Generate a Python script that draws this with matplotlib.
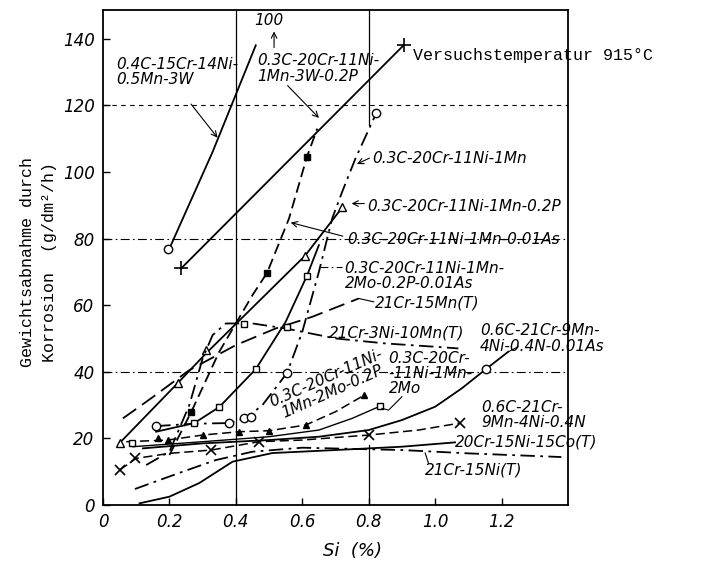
import matplotlib
matplotlib.use('Agg')
import matplotlib.pyplot as plt

# ---------------- data (Si %, weight loss g/dm2/h) ----------------
xticks = [0, 0.2, 0.4, 0.6, 0.8, 1.0, 1.2]
xtick_labels = ['0', '0.2', '0.4', '0.6', '0.8', '1.0', '1.2']
yticks = [0, 20, 40, 60, 80, 100, 120, 140]
ytick_labels = ['0', '20', '40', '60', '80', '100', '120', '140']

# 0.4C-15Cr-14Ni-0.5Mn-3W
a_x = [0.20, 0.33, 0.46]
a_y = [77, 106, 138]
a_mx = [0.195]
a_my = [77]
# 0.3C-20Cr-11Ni-1Mn-3W-0.2P
b_x = [0.235, 0.905]
b_y = [71, 138]
# 0.3C-20Cr-11Ni-1Mn
c_x = [0.16, 0.275, 0.38, 0.43, 0.48, 0.554, 0.60, 0.65, 0.69, 0.72, 0.76, 0.823]
c_y = [23.7, 24.4, 24.6, 26, 30, 39.6, 52, 70, 86, 94, 104, 117.7]
c_mx = [0.16, 0.38, 0.425, 0.446, 0.554, 0.823]
c_my = [23.7, 24.6, 26, 26.4, 39.6, 117.7]
# 0.3C-20Cr-11Ni-1Mn-0.2P
d_x = [0.05, 0.225, 0.31, 0.608, 0.71]
d_y = [18.6, 36.6, 45.5, 74.8, 88]
d_mx = [0.05, 0.225, 0.31, 0.608, 0.72]
d_my = [18.6, 36.6, 46.5, 74.8, 89.5]
# 0.3C-20Cr-11Ni-1Mn-0.01As
e_x = [0.20, 0.266, 0.35, 0.45, 0.494, 0.56, 0.614, 0.645]
e_y = [15, 28, 46, 63, 69.7, 86, 104.5, 113]
e_mx = [0.266, 0.494, 0.614]
e_my = [28, 69.7, 104.5]
# 21Cr-15Mn(T)
f_x = [0.06, 0.15, 0.26, 0.40, 0.52, 0.63, 0.77]
f_y = [26, 32.4, 40.5, 48, 53, 56.5, 62]
# 0.3C-20Cr-11Ni-1Mn-2Mo-0.2P-0.01As
g_x = [0.16, 0.275, 0.35, 0.46, 0.55, 0.614, 0.65]
g_y = [22, 24.6, 29.4, 40.8, 55, 68.8, 78]
g_mx = [0.275, 0.35, 0.46, 0.614]
g_my = [24.6, 29.4, 40.8, 68.8]
# 0.3C-20Cr-11Ni-1Mn-2Mo-0.2P
h_x = [0.07, 0.195, 0.30, 0.41, 0.50, 0.61, 0.70, 0.787]
h_y = [19, 19.5, 21, 22, 22.3, 24, 28, 33]
h_mx = [0.165, 0.195, 0.30, 0.41, 0.50, 0.61, 0.787]
h_my = [20, 19.5, 21, 22, 22.3, 24, 33]
# 0.3C-20Cr-11Ni-1Mn-2Mo
i_x = [0.09, 0.3, 0.5, 0.65, 0.75, 0.835]
i_y = [17.5, 19, 20.5, 22.5, 26, 29.7]
i_mx = [0.087, 0.835]
i_my = [18.6, 29.7]
# 0.6C-21Cr-9Mn-4Ni-0.4N-0.01As
j_x = [0.12, 0.3, 0.5, 0.65, 0.8, 0.9, 1.0, 1.08, 1.153, 1.22]
j_y = [17, 18.5, 19.5, 20.5, 22.5, 25.5, 29.5, 35, 40.8, 46]
j_mx = [1.153]
j_my = [40.8]
# 0.6C-21Cr-9Mn-4Ni-0.4N
k_x = [0.05, 0.1, 0.2, 0.326, 0.47, 0.6, 0.8, 0.95, 1.075]
k_y = [10.5, 14, 15.5, 16.5, 19, 19.5, 21, 22.5, 24.6]
k_mx = [0.05, 0.096, 0.326, 0.47, 0.8, 1.075]
k_my = [10.5, 14, 16.5, 19, 21, 24.6]
# 20Cr-15Ni-15Co(T)
l_x = [0.11, 0.2, 0.29, 0.39, 0.51, 0.7, 0.9, 1.06]
l_y = [0.5, 2.5, 6.6, 13, 15.6, 16.5, 17.5, 18.8]
# 21Cr-15Ni(T)
m_x = [0.096, 0.24, 0.34, 0.45, 0.6, 0.9, 1.1, 1.38]
m_y = [4.8, 10, 13.5, 16, 17.2, 16.5, 15.5, 14.4]
# 21Cr-3Ni-10Mn(T)
n_x = [0.13, 0.2, 0.26, 0.30, 0.33, 0.37, 0.45, 0.55, 0.7, 0.85, 1.0, 1.07]
n_y = [12, 16, 30, 44, 51, 54.5, 54.5, 53, 50, 48.5, 47.5, 47]
n_mx = [0.425, 0.554]
n_my = [54.4, 53.5]

# ---------------- figure ----------------
W, H = 706, 569
fig = plt.figure(figsize=(W / 100, H / 100), dpi=100)
ax = fig.add_axes([103 / W, 64 / H, (568 - 103) / W, (505 - 10) / H])
ax.set_xlim(0, 1.4)
ax.set_ylim(0, 148.6)

K = 'black'
FN = ['Liberation Sans Narrow', 'DejaVu Sans']
MONO = ['Liberation Mono', 'DejaVu Sans Mono']

solid = '-'
dashed = (0, (6, 3))
dashdot = (0, (8, 3, 1.5, 3))

# grid lines
ax.axvline(0.4, color=K, lw=0.9)
ax.plot([0.8, 0.8], [0, 18], color=K, lw=0.9)
ax.plot([0.8, 0.8], [114, 148.6], color=K, lw=0.9)
ax.axhline(40, color=K, lw=0.8, ls=dashdot)
ax.axhline(80, color=K, lw=0.8, ls=dashdot)
ax.axhline(120, color=K, lw=0.8, ls=(0, (4, 4)))

lw = 1.3
ax.plot(a_x, a_y, color=K, lw=lw, ls=solid)
ax.plot(a_mx, a_my, ls='none', marker='o', mfc='white', mec=K, ms=6)
ax.plot(b_x, b_y, color=K, lw=lw, ls=solid, marker='+', ms=10, mew=1.2)
ax.plot(c_x, c_y, color=K, lw=lw, ls=dashdot)
ax.plot(c_mx, c_my, ls='none', marker='o', mfc='white', mec=K, ms=6)
ax.plot(d_x, d_y, color=K, lw=lw, ls=solid)
ax.plot(d_mx, d_my, ls='none', marker='^', mfc='white', mec=K, ms=6)
ax.plot(e_x, e_y, color=K, lw=lw, ls=dashed)
ax.plot(e_mx, e_my, ls='none', marker='s', mfc=K, mec=K, ms=4.5)
ax.plot(f_x, f_y, color=K, lw=lw, ls=(0, (9, 4)))
ax.plot(g_x, g_y, color=K, lw=lw, ls=solid)
ax.plot(g_mx, g_my, ls='none', marker='s', mfc='white', mec=K, ms=5)
ax.plot(h_x, h_y, color=K, lw=1.1, ls=dashed)
ax.plot(h_mx, h_my, ls='none', marker='^', mfc=K, mec=K, ms=5)
ax.plot(i_x, i_y, color=K, lw=1.0, ls=solid)
ax.plot(i_mx, i_my, ls='none', marker='s', mfc='white', mec=K, ms=4.5)
ax.plot(j_x, j_y, color=K, lw=lw, ls=solid)
ax.plot(j_mx, j_my, ls='none', marker='o', mfc='white', mec=K, ms=6)
ax.plot(k_x, k_y, color=K, lw=1.1, ls=dashed)
ax.plot(k_mx, k_my, ls='none', marker='x', mec=K, ms=7, mew=1.2)
ax.plot(l_x, l_y, color=K, lw=lw, ls=solid)
ax.plot(m_x, m_y, color=K, lw=lw, ls=dashdot)
ax.plot(n_x, n_y, color=K, lw=lw, ls=dashdot)
ax.plot(n_mx, n_my, ls='none', marker='s', mfc='white', mec=K, ms=4)

# ---------------- labels & leaders ----------------
ts = dict(fontsize=11, style='italic', family=FN, color=K)
ap = dict(arrowstyle='->', color=K, lw=0.8)

ax.text(0.04, 130, '0.4C-15Cr-14Ni-\n0.5Mn-3W', va='center', ha='left',
        linespacing=1.05, **ts)
ax.annotate('', xy=(0.35, 109.6), xytext=(0.26, 121), arrowprops=ap)

ax.text(0.464, 131, '0.3C-20Cr-11Ni-\n1Mn-3W-0.2P', va='center', ha='left',
        linespacing=1.05, **ts)
ax.annotate('', xy=(0.656, 115.6), xytext=(0.55, 126.5), arrowprops=ap)

ax.text(0.5, 145.5, '100', va='center', ha='center', **ts)
ax.annotate('', xy=(0.515, 143), xytext=(0.515, 136.5), arrowprops=ap)

ax.text(0.934, 135, 'Versuchstemperatur 915\u00b0C', va='center', ha='left',
        fontsize=12, family=MONO, color=K, clip_on=False)

ax.text(0.81, 104, '0.3C-20Cr-11Ni-1Mn', va='center', ha='left', **ts)
ax.annotate('', xy=(0.757, 102), xytext=(0.81, 104.5), arrowprops=ap)

ax.text(0.795, 89.5, '0.3C-20Cr-11Ni-1Mn-0.2P', va='center', ha='left', **ts)
ax.annotate('', xy=(0.74, 90.5), xytext=(0.795, 90.5), arrowprops=ap)

ax.text(0.735, 79.6, '0.3C-20Cr-11Ni-1Mn-0.01As', va='center', ha='left', **ts)
ax.annotate('', xy=(0.557, 85), xytext=(0.73, 80.5), arrowprops=ap)

ax.text(0.727, 68.7, '0.3C-20Cr-11Ni-1Mn-\n2Mo-0.2P-0.01As', va='center', ha='left',
        linespacing=1.05, **ts)
ax.plot([0.65, 0.72], [71.5, 71.5], color=K, lw=0.8, ls=dashdot)

ax.text(0.82, 60.7, '21Cr-15Mn(T)', va='center', ha='left', **ts)
ax.plot([0.77, 0.815], [62, 61], color=K, lw=0.8)

ax.text(0.68, 51.6, '21Cr-3Ni-10Mn(T)', va='center', ha='left', **ts)

ax.text(1.135, 50, '0.6C-21Cr-9Mn-\n4Ni-0.4N-0.01As', va='center', ha='left',
        linespacing=1.05, **ts)
ax.plot([1.22, 1.25], [46, 47.5], color=K, lw=0.8)

ax.text(0.68, 36, '0.3C-20Cr-11Ni-\n1Mn-2Mo-0.2P', va='center', ha='center',
        rotation=24, linespacing=1.0, rotation_mode='anchor', **ts)

ax.text(0.86, 39.5, '0.3C-20Cr-\n-11Ni-1Mn-\n2Mo', va='center', ha='left',
        linespacing=1.0, **ts)
ax.plot([0.9, 0.86, 0.84], [32.5, 28.5, 29], color=K, lw=0.8)

ax.text(1.14, 27, '0.6C-21Cr-\n9Mn-4Ni-0.4N', va='center', ha='left',
        linespacing=1.0, **ts)
ax.text(1.06, 19, '20Cr-15Ni-15Co(T)', va='center', ha='left', clip_on=False, **ts)
ax.text(0.97, 10.5, '21Cr-15Ni(T)', va='center', ha='left', **ts)
ax.plot([0.97, 0.98], [15.6, 12.5], color=K, lw=0.8)

# ---------------- axes styling ----------------
ax.set_xticks(xticks)
ax.set_xticklabels(xtick_labels, fontsize=12, style='italic', family=FN)
ax.set_yticks(yticks)
ax.set_yticklabels(ytick_labels, fontsize=12, style='italic', family=FN)
ax.tick_params(direction='in', length=5, width=1, colors=K, pad=6)
for s in ax.spines.values():
    s.set_linewidth(1.3)
    s.set_color(K)

ax.set_xlabel('Si  (%)', fontsize=13, style='italic', family=FN, labelpad=14)
ax.xaxis.set_label_coords(0.75 / 1.4, -0.075)
fig.text(28 / W, 1 - 262 / H, 'Gewichtsabnahme durch', rotation=90,
         ha='center', va='center', fontsize=12, family=MONO)
fig.text(50 / W, 1 - 262 / H, 'Korrosion  (g/dm\u00b2/h)', rotation=90,
         ha='center', va='center', fontsize=12, family=MONO)

fig.savefig('out.png', dpi=100)
